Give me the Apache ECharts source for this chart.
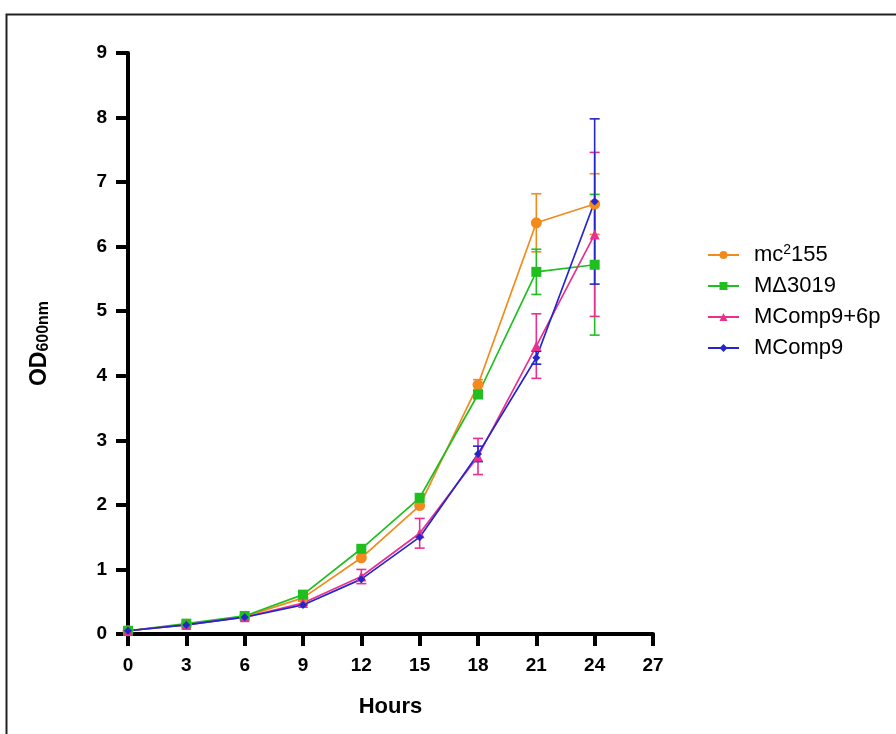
<!DOCTYPE html>
<html><head><meta charset="utf-8">
<script src="https://cdn.jsdelivr.net/npm/echarts@6/dist/echarts.min.js"></script>
<style>html,body{margin:0;padding:0;background:#fff}#c{width:896px;height:734px}</style>
</head><body><div id="c"></div>
<script>
const hours = [0, 3, 6, 9, 12, 15, 18, 21, 24];
const seriesNames = ['mc2155', 'MΔ3019', 'MComp9+6p', 'MComp9'];
const mc2155 = [0.05, 0.15, 0.27, 0.56, 1.18, 1.99, 3.86, 6.37, 6.66];
const mc2155Err = [0, 0, 0, 0, 0, 0, 0.08, 0.45, 0.47];
const mD3019 = [0.05, 0.16, 0.28, 0.61, 1.32, 2.11, 3.71, 5.61, 5.72];
const mD3019Err = [0, 0, 0, 0, 0, 0, 0, 0.35, 1.09];
const mComp9_6p = [0.05, 0.14, 0.26, 0.48, 0.89, 1.56, 2.75, 4.46, 6.19];
const mComp9_6pErr = [0, 0, 0, 0.03, 0.11, 0.23, 0.28, 0.5, 1.27];
const mComp9 = [0.05, 0.14, 0.26, 0.45, 0.85, 1.5, 2.79, 4.28, 6.7];
const mComp9Err = [0, 0, 0, 0, 0, 0, 0.12, 0.1, 1.28];
const xTicks = [0, 3, 6, 9, 12, 15, 18, 21, 24, 27];
const yTicks = [0, 1, 2, 3, 4, 5, 6, 7, 8, 9];

const colors = ['#F28A1E', '#1FBF1F', '#E8308F', '#2525CC'];
const symbols = ['circle', 'rect', 'triangle', 'diamond'];
const symSizes = [11, 10, 10, 8];
const vals = [mc2155, mD3019, mComp9_6p, mComp9];
const errs = [mc2155Err, mD3019Err, mComp9_6pErr, mComp9Err];

const series = [];
vals.forEach((v, i) => {
  series.push({
    name: 'err' + i, type: 'custom', z: 1, silent: true,
    data: hours.map((h, k) => [h, v[k] - errs[i][k], v[k] + errs[i][k], errs[i][k]]),
    renderItem: (params, api) => {
      if (api.value(3) <= 0) return null;
      const lo = api.coord([api.value(0), api.value(1)]);
      const hi = api.coord([api.value(0), api.value(2)]);
      const w = 5;
      const st = { stroke: colors[i], lineWidth: 1.6 };
      return { type: 'group', children: [
        { type: 'line', shape: { x1: lo[0], y1: lo[1], x2: hi[0], y2: hi[1] }, style: st },
        { type: 'line', shape: { x1: lo[0] - w, y1: lo[1], x2: lo[0] + w, y2: lo[1] }, style: st },
        { type: 'line', shape: { x1: hi[0] - w, y1: hi[1], x2: hi[0] + w, y2: hi[1] }, style: st }
      ]};
    }
  });
});
vals.forEach((v, i) => {
  series.push({
    name: seriesNames[i], type: 'line', z: 3,
    data: hours.map((h, k) => [h, v[k]]),
    symbol: symbols[i], symbolSize: symSizes[i], showSymbol: true,
    itemStyle: { color: colors[i] },
    lineStyle: { color: colors[i], width: 1.7 }
  });
});

const chart = echarts.init(document.getElementById('c'), null, { renderer: 'canvas' });
const lf = 'Liberation Sans, Arial';
const tickFont = { fontFamily: lf, fontWeight: 'bold', fontSize: 19, color: '#000' };
chart.setOption({
  animation: false,
  backgroundColor: '#fff',
  graphic: [{ type: 'rect', shape: { x: 6.5, y: 14.5, width: 1000, height: 1000 }, style: { fill: 'none', stroke: '#222', lineWidth: 2 }, z: 0 }],
  grid: { left: 128, top: 53, width: 525, height: 581, containLabel: false },
  legend: {
    data: seriesNames, orient: 'vertical', left: 702, top: 238, itemGap: 9,
    itemWidth: 31, itemHeight: 10,
    textStyle: { fontFamily: lf, fontSize: 22, color: '#000', padding: [0, 0, 0, 10],
      rich: { a: { fontFamily: lf, fontSize: 22, color: '#000' }, sup: { fontFamily: lf, fontSize: 14, color: '#000', verticalAlign: 'top', padding: [0, 0, 10, 0] } } },
    formatter: n => n === 'mc2155' ? '{a|mc}{sup|2}{a|155}' : n
  },
  xAxis: {
    type: 'value', min: 0, max: 27, interval: 3,
    name: 'Hours', nameLocation: 'middle', nameGap: 62,
    nameTextStyle: { fontFamily: lf, fontWeight: 'bold', fontSize: 22, color: '#000' },
    axisLine: { onZero: false, lineStyle: { color: '#000', width: 4 } },
    axisTick: { show: true, length: 12, lineStyle: { color: '#000', width: 4 } },
    axisLabel: Object.assign({ margin: 22 }, tickFont, { formatter: v => xTicks.includes(v) ? String(v) : '' }),
    splitLine: { show: false }
  },
  yAxis: {
    type: 'value', min: 0, max: 9, interval: 1,
    name: '{b|OD}{s|600nm}', nameLocation: 'middle', nameGap: 76, nameRotate: 90,
    nameTextStyle: { rich: { b: { fontFamily: lf, fontWeight: 'bold', fontSize: 23, color: '#000' }, s: { fontFamily: lf, fontWeight: 'bold', fontSize: 16, color: '#000', verticalAlign: 'bottom', padding: [9, 0, 0, 0] } } },
    axisLine: { show: true, onZero: false, lineStyle: { color: '#000', width: 4 } },
    axisTick: { show: true, length: 12, lineStyle: { color: '#000', width: 4 } },
    axisLabel: Object.assign({ margin: 21 }, tickFont, { formatter: v => yTicks.includes(v) ? String(v) : '' }),
    splitLine: { show: false }
  },
  series
});
</script></body></html>
